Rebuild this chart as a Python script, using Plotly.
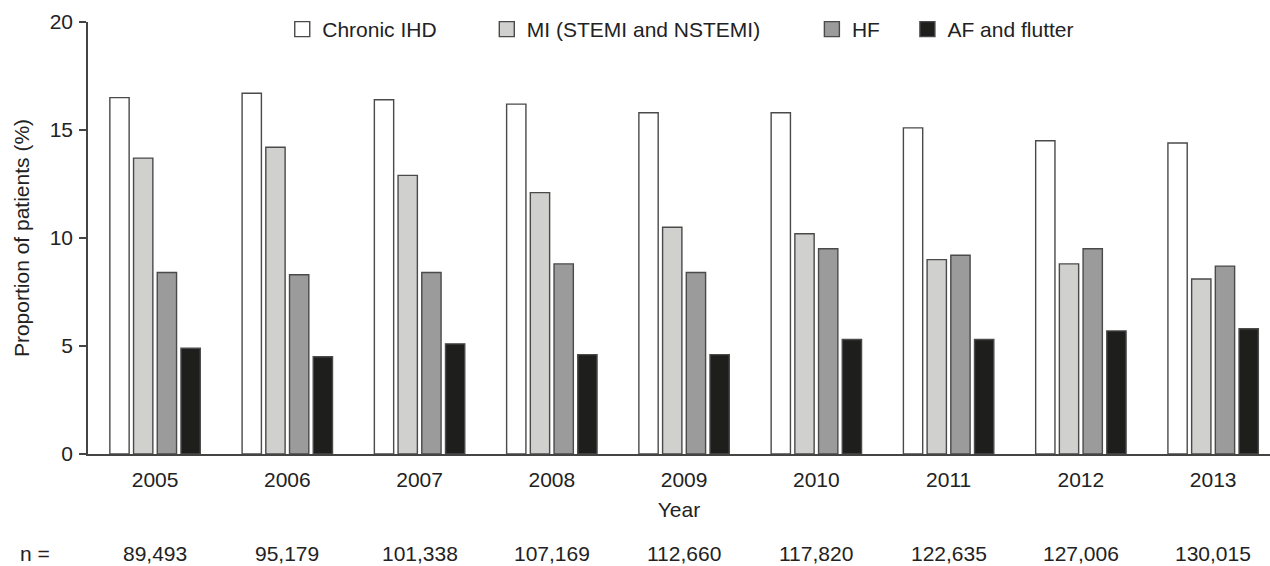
import plotly.graph_objects as go

years = ["2005", "2006", "2007", "2008", "2009", "2010", "2011", "2012", "2013"]
n_patients = ["89,493", "95,179", "101,338", "107,169", "112,660", "117,820", "122,635", "127,006", "130,015"]
series_names = ["Chronic IHD", "MI (STEMI and NSTEMI)", "HF", "AF and flutter"]
chronic_ihd = [16.5, 16.7, 16.4, 16.2, 15.8, 15.8, 15.1, 14.5, 14.4]
mi = [13.7, 14.2, 12.9, 12.1, 10.5, 10.2, 9.0, 8.8, 8.1]
hf = [8.4, 8.3, 8.4, 8.8, 8.4, 9.5, 9.2, 9.5, 8.7]
af = [4.9, 4.5, 5.1, 4.6, 4.6, 5.3, 5.3, 5.7, 5.8]
y_ticks = [0, 5, 10, 15, 20]

colors = ["#ffffff", "#d0d0ce", "#9b9b9b", "#1e1e1c"]
outline = "#4a4a4a"
txt = "#222222"
FONT = "Liberation Sans, Arial, sans-serif"
FS = 21

fig = go.Figure()
values = [chronic_ihd, mi, hf, af]
legend_ids = ["legend", "legend2", "legend3", "legend4"]
for name, vals, col, lg in zip(series_names, values, colors, legend_ids):
    fig.add_trace(go.Bar(
        x=years, y=vals, name=name, showlegend=False,
        marker=dict(color=col, line=dict(color=outline, width=1.4)),
    ))
    fig.add_trace(go.Scatter(
        x=[None], y=[None], mode="markers", name=name, legend=lg,
        marker=dict(symbol="square", size=15, color=col,
                    line=dict(color=outline, width=1.4)),
    ))

W = 1181.7
ROW_Y = -0.2305
# n = row
for i, n in enumerate(n_patients):
    fig.add_annotation(x=i, y=ROW_Y, xref="x", yref="paper", text=n,
                       showarrow=False, yanchor="middle", xanchor="center",
                       font=dict(family=FONT, size=FS, color=txt))
fig.add_annotation(x=-(88.3 - 18) / W, y=ROW_Y, xref="paper", yref="paper", text="n =",
                   showarrow=False, yanchor="middle", xanchor="left",
                   font=dict(family=FONT, size=FS, color=txt))

leg_centers = [302.5, 507, 832, 927.5]
leg_common = dict(orientation="v", xanchor="left", yanchor="middle", y=0.9827,
                  bgcolor="rgba(0,0,0,0)", borderwidth=0,
                  font=dict(family=FONT, size=FS, color=txt))
legs = {}
for lg, c in zip(legend_ids, leg_centers):
    legs[lg] = dict(x=(c - 20 - 88.3) / W, **leg_common)

fig.update_layout(
    width=1270, height=566,
    margin=dict(l=88, r=0, t=22, b=112),
    paper_bgcolor="white", plot_bgcolor="white",
    barmode="group", bargap=0.283, bargroupgap=0.186,
    font=dict(family=FONT, size=FS, color=txt),
    **legs,
)
fig.update_xaxes(
    type="category", range=[-0.507, 8.43],
    showline=True, linecolor="#444444", linewidth=1.5,
    ticks="", showgrid=False, zeroline=False,
    ticklabelstandoff=6,
    tickfont=dict(family=FONT, size=FS, color=txt),
    title=dict(text="Year", standoff=12, font=dict(family=FONT, size=FS, color=txt)),
)
fig.update_yaxes(
    range=[0, 20], tickvals=y_ticks,
    showline=True, linecolor="#444444", linewidth=1.5,
    ticks="outside", ticklen=7, tickwidth=1.5, tickcolor="#444444",
    showgrid=False, zeroline=False,
    ticklabelstandoff=2,
    tickfont=dict(family=FONT, size=FS, color=txt),
    title=dict(text="Proportion of patients (%)", standoff=14,
               font=dict(family=FONT, size=FS, color=txt)),
)

fig.write_html("out.html", config={"displayModeBar": False},
               post_script="document.body.style.margin='0';")
